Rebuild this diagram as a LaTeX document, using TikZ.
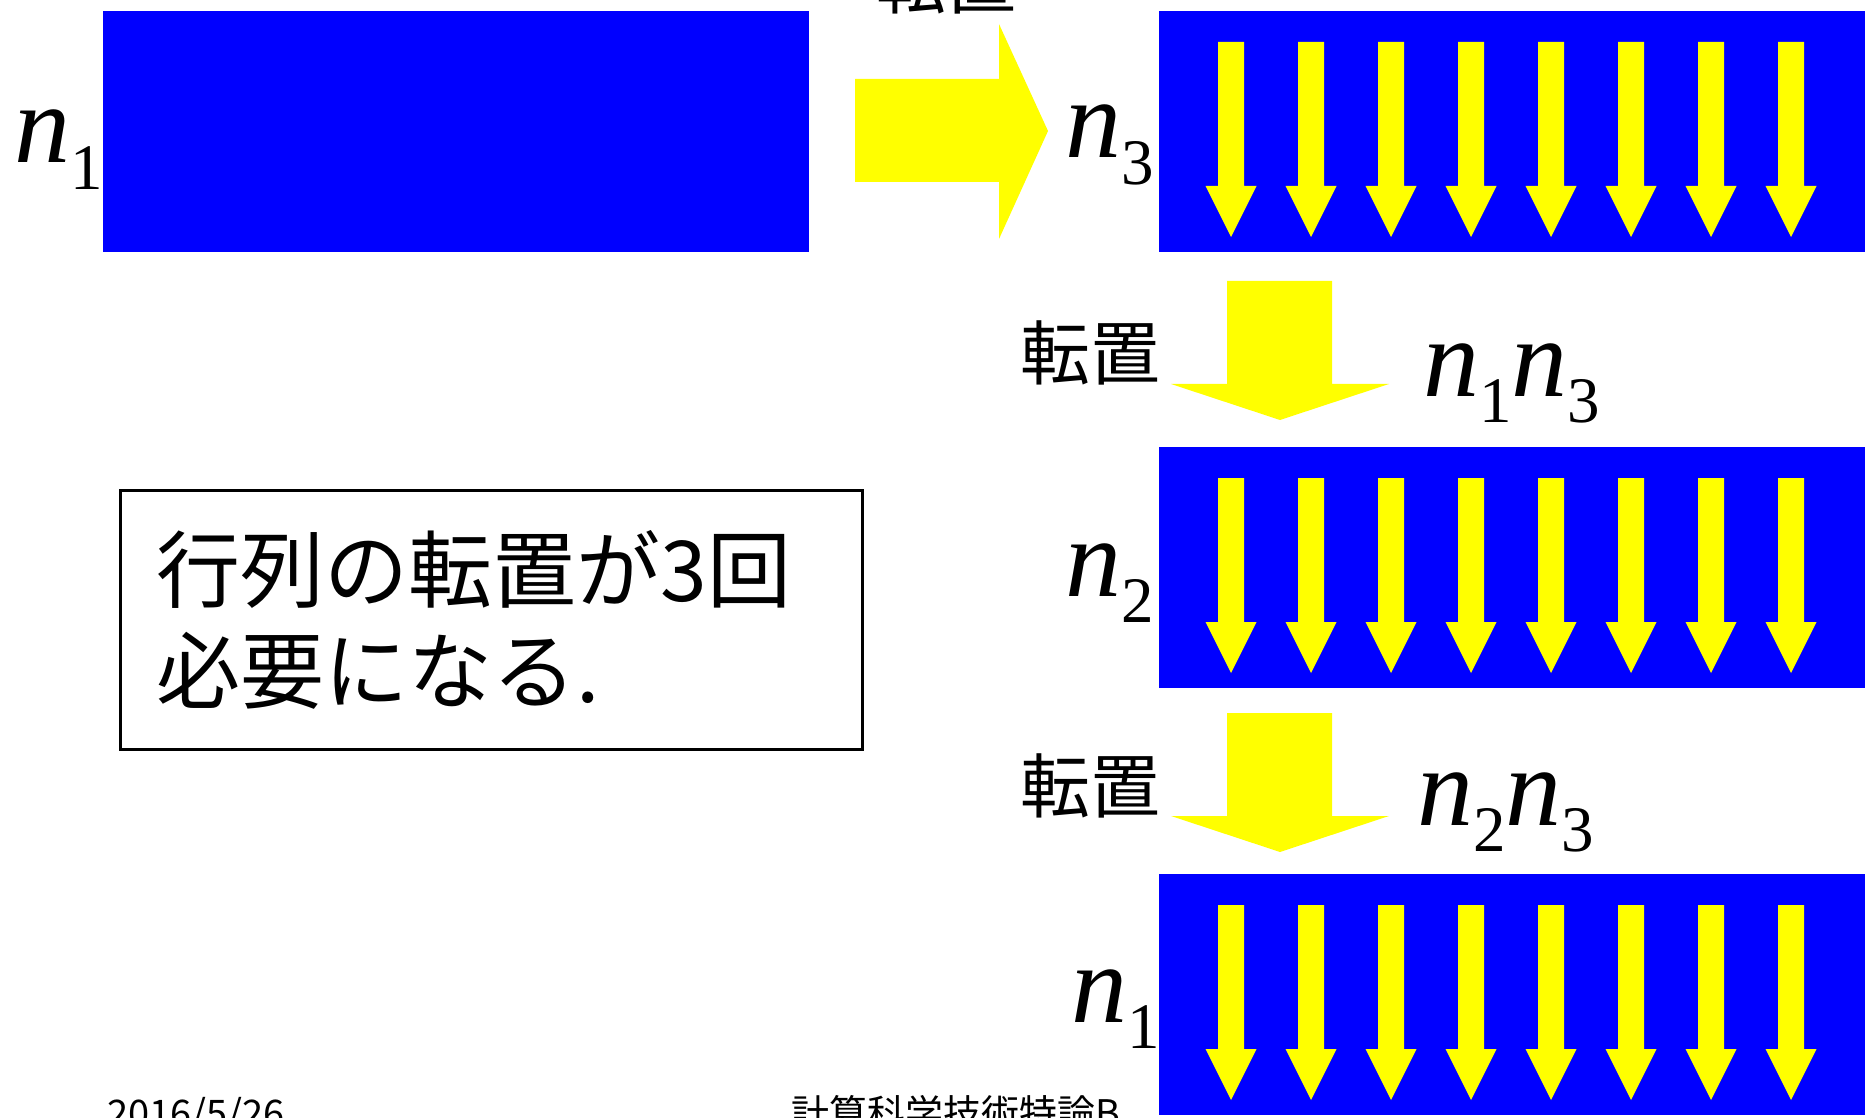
\documentclass[tikz,border=0pt]{standalone}
\usepackage{fontspec}
\setmainfont{Noto Sans CJK JP}
\newfontfamily\tms{Liberation Serif}
\newcommand\vn[1]{{\itshape n}\raisebox{-0.24em}{\scalebox{0.58}{\upshape #1}}}
\definecolor{pblue}{RGB}{0,0,255}
\definecolor{pyel}{RGB}{255,255,0}
\begin{document}
\begin{tikzpicture}[x=0.5pt,y=-0.5pt,
  blk/.style={fill=pblue, draw=none, inner sep=0pt, anchor=north west, minimum width=353pt, minimum height=120.5pt},
  mathlbl/.style={inner sep=0pt, anchor=base west, font=\fontsize{56pt}{60pt}\selectfont\tms},
  jlbl/.style={inner sep=0pt, font=\fontsize{35pt}{40pt}\selectfont},
  foot/.style={inner sep=0pt, anchor=north west, font=\fontsize{19pt}{22pt}\selectfont},
  colarrow/.pic={\fill[pyel] (-13,0) -- (13,0) -- (13,144) -- (25.5,144) -- (0,195) -- (-25.5,144) -- (-13,144) -- cycle;}
]
\useasboundingbox (0,0) rectangle (1870,1118);
\fill[white] (0,0) rectangle (1870,1118);

% blue blocks
\node[blk] (A) at (103,11) {};
\node[blk] (R1) at (1159,11) {};
\node[blk] (R2) at (1159,447) {};
\node[blk] (R3) at (1159,874) {};

% column arrows
\foreach \t in {11,447,874}{
  \foreach \i in {0,...,7}{
    \pic at ({1231+80*\i},{\t+31}) {colarrow};
  }
}

% big right arrow
\fill[pyel] (855,79) -- (999,79) -- (999,24) -- (1048,131) -- (999,239) -- (999,182) -- (855,182) -- cycle;
% down arrows
\fill[pyel] (1227,281) -- (1332,281) -- (1332,384) -- (1389,384) -- (1280,420) -- (1171,384) -- (1227,384) -- cycle;
\fill[pyel] (1227,713) -- (1332,713) -- (1332,816) -- (1389,816) -- (1280,852) -- (1171,816) -- (1227,816) -- cycle;

% labels
\node[jlbl] (t0) at (946,-18) {転置};
\node[jlbl] (t1) at (1090,353) {転置};
\node[jlbl] (t2) at (1090,786) {転置};

\node[mathlbl] (l1) at (14,163) {\vn{1}};
\node[mathlbl] (l2) at (1065,158) {\vn{3}};
\node[mathlbl] (l3) at (1423,396) {\vn{1}\vn{3}};
\node[mathlbl] (l4) at (1065,596) {\vn{2}};
\node[mathlbl] (l5) at (1417,825) {\vn{2}\vn{3}};
\node[mathlbl] (l6) at (1071,1022) {\vn{1}};

% text box
\node[draw, line width=1.5pt, anchor=north west, inner xsep=18pt, inner ysep=0pt,
      text width=335pt, minimum height=129.5pt, align=left,
      font=\fontsize{42pt}{50.5pt}\selectfont] (box) at (119,489)
  {行列の転置が3回\\必要になる.};

% footer
\node[foot] (f1) at (107,1097) {2016/5/26};
\node[foot] (f2) at (791,1095) {計算科学技術特論B};
\end{tikzpicture}
\end{document}
